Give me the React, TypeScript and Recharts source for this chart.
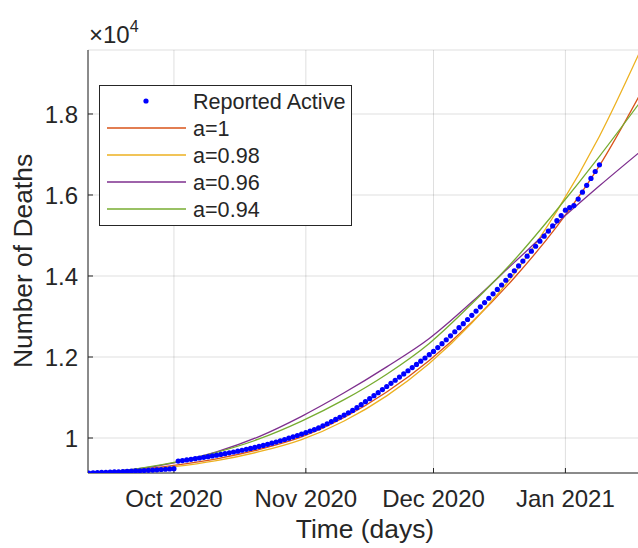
import React from 'react';
import { ComposedChart, Line, Scatter, XAxis, YAxis, CartesianGrid, Label } from 'recharts';

const FONT = '"Liberation Sans", Arial, Helvetica, sans-serif';
const INK = '#262626';

// x values are days counted from 1 Oct 2020
const monthTicks = [0, 31, 61, 92];
const monthLabels = ['Oct 2020', 'Nov 2020', 'Dec 2020', 'Jan 2021'];
const deathTicks = [10000, 12000, 14000, 16000, 18000];

// daily reported values, first one on 11 Sep 2020
const reportedFirstDay = -20;
const reportedActive = [
  9136, 9140, 9145, 9149, 9153, 9158, 9162, 9167, 9171, 9176, 9181, 9186, 9192, 9197, 9203, 9209, 9215, 9222, 9229, 9236, 9244,
  9430, 9444, 9459, 9474, 9490, 9506, 9523, 9540, 9558, 9576, 9595, 9614, 9634, 9655, 9676, 9698, 9720, 9743, 9767, 9792,
  9818, 9845, 9873, 9902, 9932, 9963, 9995, 10028, 10062, 10097, 10133, 10170, 10208, 10250, 10300, 10352, 10405, 10458, 10512, 10567, 10623, 10680,
  10750, 10822, 10896, 10970, 11045, 11120, 11196, 11272, 11349, 11426, 11504, 11582, 11660, 11738, 11817, 11896, 11976, 12057, 12138,
  12233, 12329, 12426, 12524, 12623, 12723, 12824, 12926, 13029, 13133, 13238, 13344, 13451, 13559, 13668, 13778,
  13895, 14012, 14130, 14249, 14369, 14490, 14612, 14735, 14859, 14984, 15110, 15237, 15365, 15494, 15624,
  15690, 15740, 15900, 16070, 16240, 16410, 16580, 16745,
];

// fitted curves, read every 10 days
const fitDays = [-20, -10, 0, 10, 20, 30, 40, 50, 60, 70, 80, 90, 100, 110];
const fitA100 = [9136, 9206, 9326, 9486, 9716, 10026, 10506, 11136, 11916, 12856, 13956, 15226, 16726, 18576];
const fitA098 = [9136, 9196, 9291, 9441, 9661, 9961, 10421, 11041, 11841, 12841, 14061, 15601, 17451, 19651];
const fitA096 = [9136, 9216, 9386, 9656, 10036, 10536, 11116, 11756, 12456, 13356, 14336, 15306, 16226, 17106];
const fitA094 = [9136, 9221, 9396, 9646, 9976, 10416, 10946, 11576, 12336, 13316, 14396, 15636, 16956, 18356];

const fits = [
  { name: 'a=1', color: '#D95319', values: fitA100 },
  { name: 'a=0.98', color: '#EDB120', values: fitA098 },
  { name: 'a=0.96', color: '#7E2F8E', values: fitA096 },
  { name: 'a=0.94', color: '#77AC30', values: fitA094 },
];

const X_DOMAIN: [number, number] = [-20.2, 110];
const Y_DOMAIN: [number, number] = [9136, 19580];
const DOT_COLOR = '#0000FF';

const reportedData = reportedActive.map((y, i) => ({ x: reportedFirstDay + i, y }));
const fitData = fits.map((f) => ({ ...f, data: fitDays.map((x, i) => ({ x, y: f.values[i] })) }));

const legendItems = [{ name: 'Reported Active', color: DOT_COLOR, dot: true }, ...fits.map((f) => ({ name: f.name, color: f.color, dot: false }))];

const PlotLegend = () => (
  <svg width={253} height={141} style={{ position: 'absolute', left: 99, top: 85 }}>
    <rect x={0.5} y={0.5} width={252} height={140} fill="#fff" stroke={INK} strokeWidth={1} />
    {legendItems.map((item, i) => {
      const cy = 16 + i * 27;
      return (
        <g key={item.name}>
          {item.dot ? (
            <circle cx={47} cy={cy} r={2.6} fill={item.color} />
          ) : (
            <line x1={8} x2={87} y1={cy} y2={cy} stroke={item.color} strokeWidth={1.3} />
          )}
          <text x={94} y={cy + 7.7} fontSize={21.6} fill={INK} fontFamily={FONT}>
            {item.name}
          </text>
        </g>
      );
    })}
  </svg>
);

const AxisTitles = () => (
  <g>
    <text x={32} y={261} transform="rotate(-90 32 261)" textAnchor="middle" fontSize={26.4} fill={INK} fontFamily={FONT}>
      Number of Deaths
    </text>
    <text x={89} y={43} fontSize={24} fill={INK} fontFamily={FONT}>
      ×10
      <tspan dy={-11} fontSize={16}>4</tspan>
    </text>
  </g>
);

export default function App() {
  return (
    <div style={{ position: 'absolute', left: 0, top: 0, width: 638, height: 548, overflow: 'hidden', background: '#fff' }}>
      <ComposedChart width={642} height={548} margin={{ top: 50, right: 0, bottom: 0, left: 0 }} style={{ fontFamily: FONT }}>
        <CartesianGrid stroke={INK} strokeOpacity={0.15} />
        <XAxis
          type="number"
          dataKey="x"
          domain={X_DOMAIN}
          ticks={monthTicks}
          interval={0}
          allowDataOverflow
          height={75}
          stroke={INK}
          tick={{ fill: INK, fontSize: 24 }}
          tickSize={-5}
          tickMargin={22}
          tickFormatter={(v: number) => monthLabels[monthTicks.indexOf(v)]}
        >
          <Label value="Time (days)" position="insideBottom" offset={10} fill={INK} fontSize={26.4} />
        </XAxis>
        <XAxis
          xAxisId="top"
          orientation="top"
          type="number"
          domain={X_DOMAIN}
          ticks={monthTicks}
          interval={0}
          allowDataOverflow
          height={0}
          stroke={INK}
          tick={false}
          tickSize={-5}
        />
        <YAxis
          type="number"
          dataKey="y"
          domain={Y_DOMAIN}
          ticks={deathTicks}
          interval={0}
          allowDataOverflow
          width={88}
          stroke={INK}
          tick={{ fill: INK, fontSize: 24 }}
          tickSize={-5}
          tickMargin={15}
          tickFormatter={(v: number) => String(v / 10000)}
        >
          <Label content={() => <AxisTitles />} />
        </YAxis>
        <YAxis
          yAxisId="right"
          orientation="right"
          type="number"
          domain={Y_DOMAIN}
          ticks={deathTicks}
          interval={0}
          allowDataOverflow
          width={0}
          stroke={INK}
          tick={false}
          tickSize={-5}
        />
        <Scatter
          data={reportedData}
          dataKey="y"
          fill={DOT_COLOR}
          isAnimationActive={false}
          shape={(p: any) => <circle cx={p.cx} cy={p.cy} r={2.6} fill={DOT_COLOR} />}
        />
        {fitData.map((f) => (
          <Line
            key={f.name}
            data={f.data}
            dataKey="y"
            type="monotone"
            stroke={f.color}
            strokeWidth={1.3}
            dot={false}
            activeDot={false}
            isAnimationActive={false}
          />
        ))}
      </ComposedChart>
      <PlotLegend />
    </div>
  );
}
